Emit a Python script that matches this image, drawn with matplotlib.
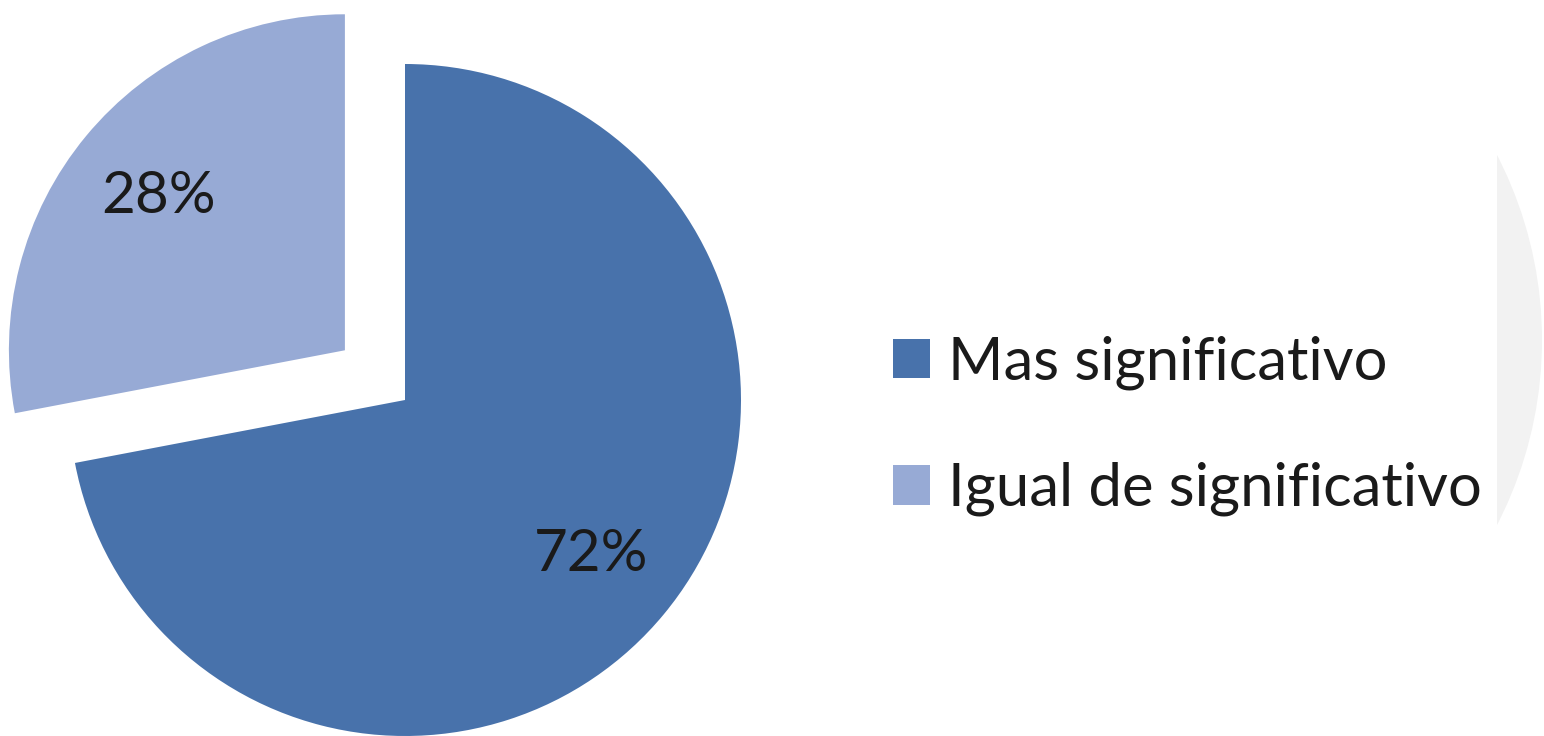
import matplotlib.pyplot as plt
from matplotlib.patches import Circle, Rectangle

labels = ["Mas significativo", "Igual de significativo"]
values = [72, 28]
colors = ["#4872AB", "#97AAD5"]

TEXT = "#1A1A1A"
plt.rcParams['font.family'] = ['Lato', 'DejaVu Sans']

fig = plt.figure(figsize=(15.44, 7.36), dpi=100)
fig.patch.set_facecolor("white")
ax = fig.add_axes([0, 0, 1, 1])

# explode is in data units here (the axes are in pixels)
wedges, _, autotexts = ax.pie(
    values, colors=colors, startangle=90, counterclock=False,
    explode=[0, 78], radius=336, center=(405, 336),
    autopct='%1.0f%%', pctdistance=0.72,
    textprops=dict(fontsize=42, color=TEXT),
    wedgeprops=dict(linewidth=0))

# pie() resets the limits, so set the pixel-sized frame afterwards
ax.set_xlim(0, 1544)
ax.set_ylim(0, 736)
ax.set_aspect('equal')
ax.axis('off')

# faint grey disc peeking in at the right edge
clip = Rectangle((1497, 0), 100, 736, transform=ax.transData)
disc = Circle((1139, 396), 403, color="#F2F2F2", zorder=0, lw=0)
ax.add_patch(disc)
disc.set_clip_path(clip)

ax.legend(wedges, labels, loc='center left', bbox_to_anchor=(893 / 1544, 1 - 426 / 736),
          frameon=False, fontsize=43, handlelength=0.62, handleheight=0.64,
          handletextpad=0.3, labelspacing=1.2, borderpad=0, borderaxespad=0,
          labelcolor=TEXT)

fig.savefig("out.png", dpi=100, facecolor="white")
